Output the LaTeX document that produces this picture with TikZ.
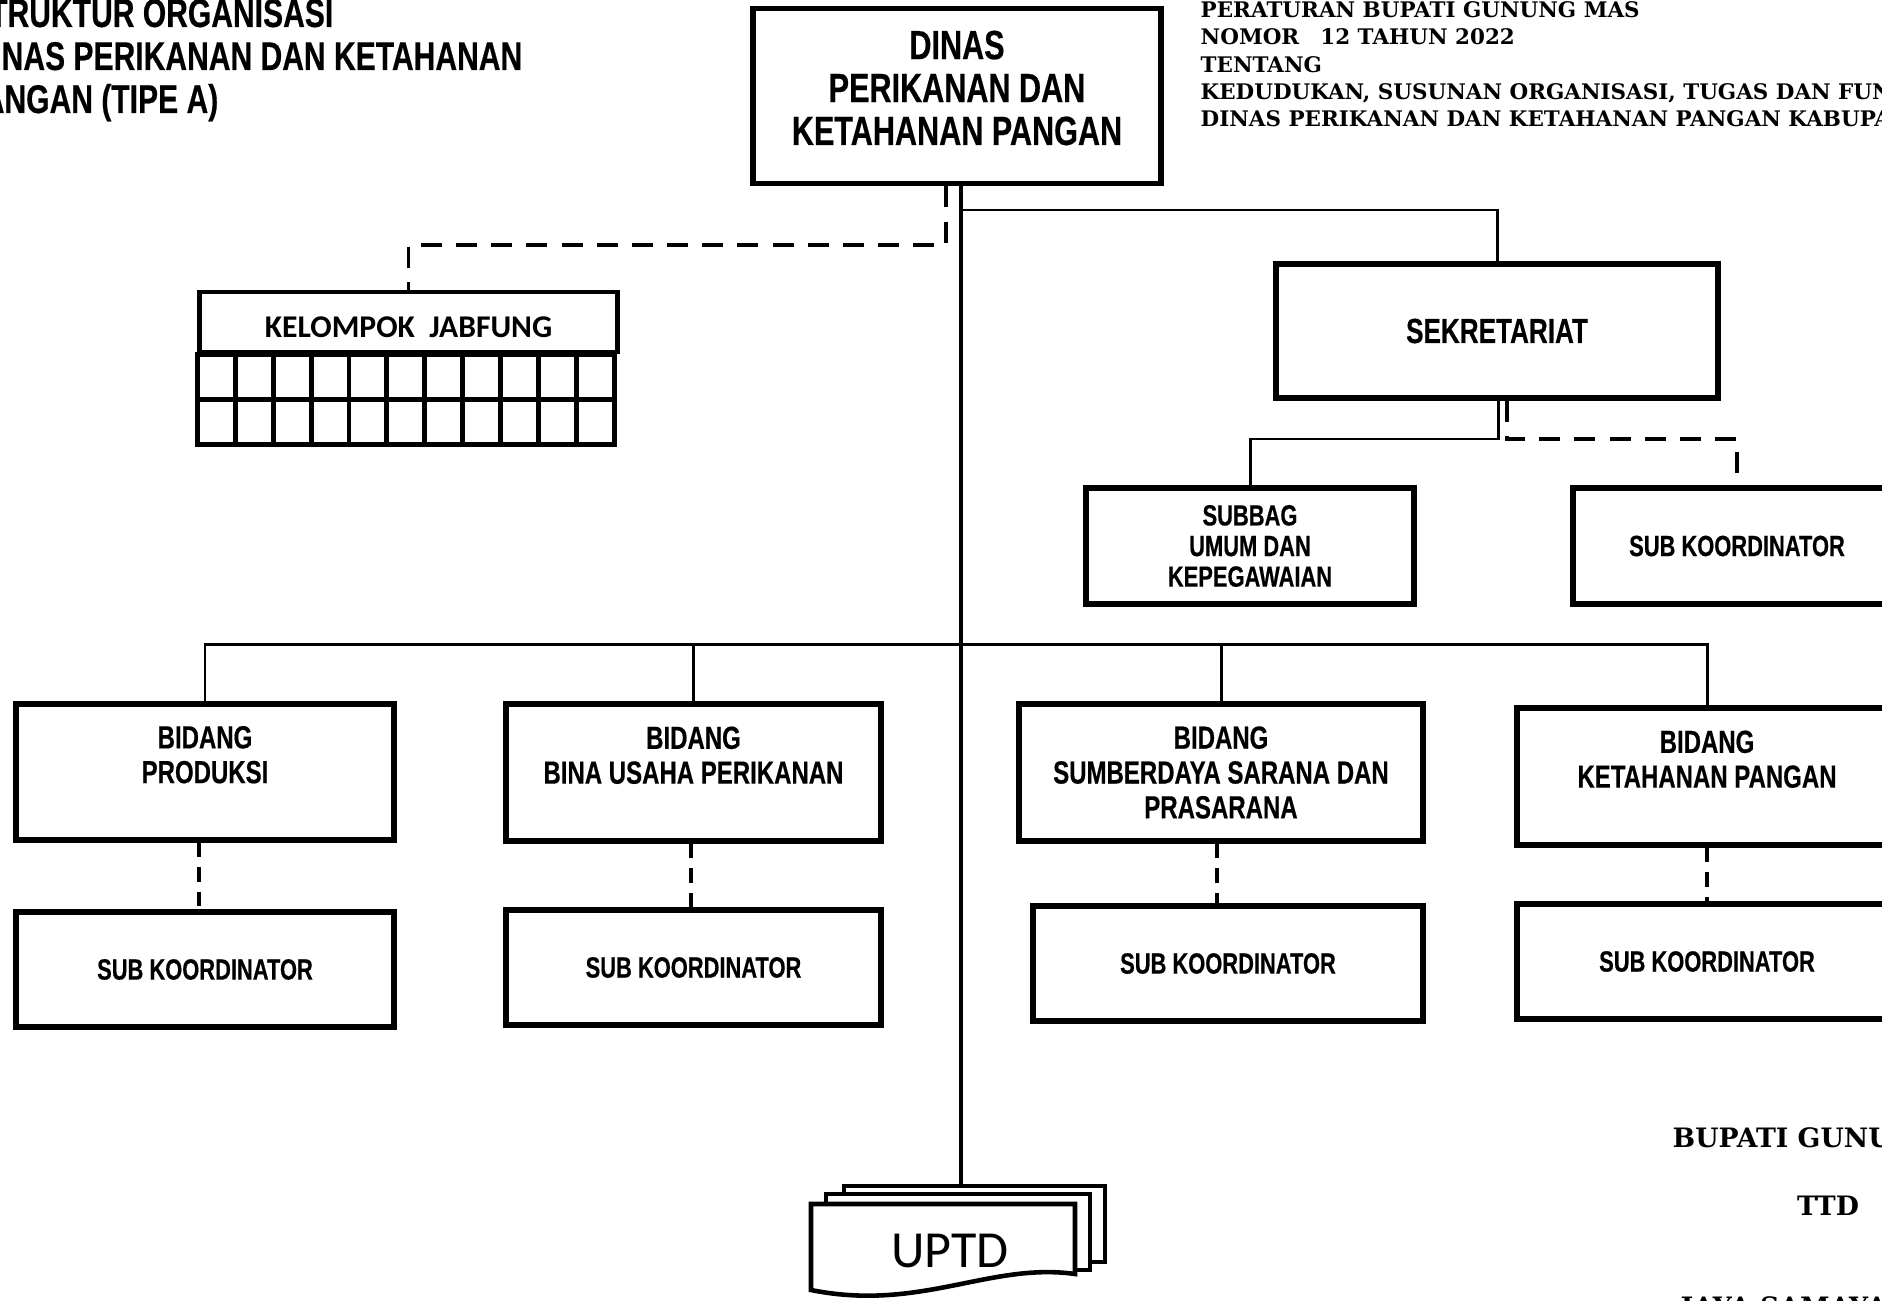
\documentclass[tikz,border=0pt]{standalone}
\usepackage{fontspec}
\setmainfont{Liberation Sans}
\newfontfamily\narrowsans[FakeStretch=0.75, FakeBold=0.4]{Liberation Sans}
\newfontfamily\perbupserif{DejaVu Serif}
\newfontfamily\calibrisans{Carlito}
\tikzset{
  orgbox/.style={draw, line width=1.6pt, fill=white, align=center, inner sep=0pt,
    font=\narrowsans\bfseries\fontsize{9.1}{9.9}\selectfont},
  subkoor/.style={orgbox, font=\narrowsans\bfseries\fontsize{8.3}{8.7}\selectfont},
  judul/.style={anchor=base east, inner sep=0pt, font=\narrowsans\bfseries\fontsize{11.4}{12}\selectfont},
  ttdtext/.style={inner sep=0pt, font=\perbupserif\bfseries\fontsize{7.6}{9}\selectfont},
  conn/.style={line width=0.85pt},
  dashconn/.style={line width=0.9pt, dash pattern=on 6pt off 4pt},
  shortdash/.style={line width=0.9pt, dash pattern=on 4pt off 3pt},
  page/.style={draw, line width=1.3pt, fill=white},
}

\begin{document}
\begin{tikzpicture}[x=0.01cm, y=-0.01cm]
  \useasboundingbox (0,0) rectangle (1882,1300);
  \clip (0,0) rectangle (1882,1300);

  % judul
  \node[judul] (judul1) at (334,27) {STRUKTUR ORGANISASI};
  \node[judul] (judul2) at (523,70) {DINAS PERIKANAN DAN KETAHANAN};
  \node[judul] (judul3) at (219,113) {PANGAN (TIPE A)};

  % peraturan bupati
  \node[anchor=north west, inner sep=0pt, align=left, font=\perbupserif\bfseries\fontsize{6.1}{7.75}\selectfont] (perbup) at (1200,1)
    {PERATURAN BUPATI GUNUNG MAS\\NOMOR\hspace{6pt}12 TAHUN 2022\\TENTANG\\KEDUDUKAN, SUSUNAN ORGANISASI, TUGAS DAN FUNGSI\\DINAS PERIKANAN DAN KETAHANAN PANGAN KABUPATEN GUNUNG MAS};

  % kepala dinas dan sekretariat
  \node[orgbox, minimum width=4.08cm, minimum height=1.75cm] (dinas) at (957,96) {};
  \node[align=center, inner sep=0pt, font=\narrowsans\bfseries\fontsize{11.6}{12.2}\selectfont] (dinastext) at (957,88) {DINAS\\PERIKANAN DAN\\KETAHANAN PANGAN};
  \node[orgbox, minimum width=4.42cm, minimum height=1.34cm, font=\narrowsans\bfseries\fontsize{9.9}{10}\selectfont] (sekr) at (1497,331) {SEKRETARIAT};
  \node[subkoor, minimum width=3.28cm, minimum height=1.16cm] (subbag) at (1250,546) {SUBBAG\\UMUM DAN\\KEPEGAWAIAN};
  \node[subkoor, minimum width=3.28cm, minimum height=1.16cm] (koorsek) at (1737,546) {SUB KOORDINATOR};

  % kelompok jabfung
  \node[draw, line width=1.4pt, minimum width=4.17cm, minimum height=0.6cm, inner sep=0pt, text height=9pt, text depth=0pt, font=\calibrisans\bfseries\fontsize{9}{11}\selectfont] (jabfung) at (408.5,322) {KELOMPOK\ \ JABFUNG};
  \draw[line width=1.4pt] (jabfung.south west) rectangle ++(417,90);
  \draw[line width=1.4pt] (jabfung.south west) ++(0,45) -- ++(417,0);
  \foreach \i in {1,...,10}
    \draw[line width=1.4pt] (jabfung.south west) ++(\i*37.9,0) -- ++(0,90);

  % bidang
  \node[orgbox, minimum width=3.78cm, minimum height=1.36cm] (prod) at (205,772) {BIDANG\\PRODUKSI\\~};
  \node[orgbox, minimum width=3.75cm, minimum height=1.37cm] (bina) at (693.5,772.5) {BIDANG\\BINA USAHA PERIKANAN\\~};
  \node[orgbox, minimum width=4.04cm, minimum height=1.37cm] (sdp) at (1221,772.5) {BIDANG\\SUMBERDAYA SARANA DAN\\PRASARANA};
  \node[orgbox, minimum width=3.80cm, minimum height=1.37cm] (ketpang) at (1707,776.5) {BIDANG\\KETAHANAN PANGAN\\~};

  \node[subkoor, minimum width=3.78cm, minimum height=1.15cm] (sk1) at (205,969.5) {SUB KOORDINATOR};
  \node[subkoor, minimum width=3.75cm, minimum height=1.15cm] (sk2) at (693.5,967.5) {SUB KOORDINATOR};
  \node[subkoor, minimum width=3.90cm, minimum height=1.15cm] (sk3) at (1228,963.5) {SUB KOORDINATOR};
  \node[subkoor, minimum width=3.80cm, minimum height=1.15cm] (sk4) at (1707,961.5) {SUB KOORDINATOR};

  % uptd
  \node[page, minimum width=2.61cm, minimum height=0.76cm] (uptdback) at (974.5,1224) {};
  \node[page, minimum width=2.64cm, minimum height=0.76cm] (uptdmid) at (958,1232) {};
  \draw[page] (811,1204) -- (1075,1204) -- (1075,1274) .. controls (990,1262) and (920,1312) .. (811,1290) -- cycle;
  \node[font=\calibrisans\fontsize{14.8}{16}\selectfont] (uptd) at (950,1251) {UPTD};

  % garis hubung
  \coordinate (mainline) at (961,0);
  \coordinate (jfbend) at (946,245);
  \coordinate (sekrbus) at (961,210);
  \coordinate (sekbus) at (1498,439);
  \coordinate (sekdash) at (1507,439);
  \coordinate (bidbus) at (961,644);
  \draw[dashconn] (dinas.south -| jfbend) -- (jfbend) -| (jabfung.north);
  \draw[conn] (sekrbus) -| (sekr.north);
  \draw[conn] (sekr.south -| sekbus) -- (sekbus) -| (subbag.north);
  \draw[dashconn] (sekr.south -| sekdash) -- (sekdash) -| (koorsek.north);
  \draw[conn] (prod.north) |- (ketpang.north |- bidbus) -- (ketpang.north);
  \foreach \b in {bina,sdp}
    \draw[conn] (\b.north) -- (\b.north |- bidbus);
  \foreach \b/\s/\x in {prod/sk1/199, bina/sk2/691, sdp/sk3/1217, ketpang/sk4/1707} {
    \coordinate (dx) at (\x,0);
    \draw[shortdash] (\b.south -| dx) -- (\s.north -| dx);
  }
  \draw[line width=1.4pt] (dinas.south -| mainline) -- (uptdback.north -| mainline);

  % tanda tangan
  \node[ttdtext, anchor=base west] (bupati) at (1672,1147) {BUPATI GUNUNG MAS};
  \node[ttdtext, anchor=base] (ttd) at (1828,1215) {TTD};
  \node[ttdtext, anchor=base west] (namabup) at (1680,1316) {JAYA SAMAYA MONONG};
\end{tikzpicture}
\end{document}
